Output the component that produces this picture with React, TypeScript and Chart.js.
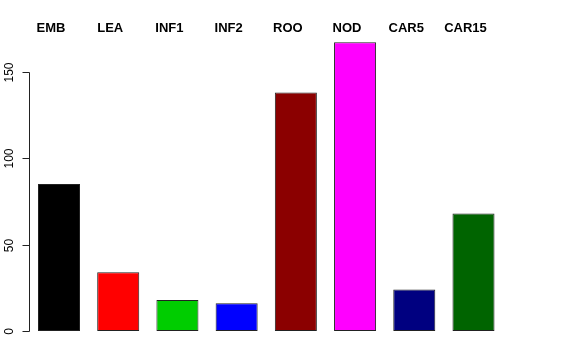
import React, { useEffect, useRef } from "react";
import { Chart, registerables } from "chart.js";

Chart.register(...registerables);

const categories = ["EMB", "LEA", "INF1", "INF2", "ROO", "NOD", "CAR5", "CAR15"];
const values = [85, 34, 18, 16, 138, 167, 24, 68];
const barColors = ["#000000", "#FF0000", "#00CD00", "#0000FF", "#8B0000", "#FF00FF", "#000080", "#006400"];
const yTicks = [0, 50, 100, 150];

const rAxisPlugin = {
  id: "rAxis",
  afterDraw(chart: any) {
    const ctx = chart.ctx;
    const y = chart.scales.y;
    const x = chart.scales.x;
    ctx.save();
    const ax = 29.5;
    ctx.strokeStyle = "#222222";
    ctx.lineWidth = 1;
    ctx.beginPath();
    ctx.moveTo(ax, Math.round(y.getPixelForValue(yTicks[0])) + 0.5);
    ctx.lineTo(ax, Math.round(y.getPixelForValue(yTicks[yTicks.length - 1])) + 0.5);
    ctx.stroke();
    ctx.fillStyle = "#000000";
    ctx.font = "12px 'Liberation Sans', Arial, sans-serif";
    ctx.textAlign = "center";
    ctx.textBaseline = "middle";
    for (const t of yTicks) {
      const py = Math.round(y.getPixelForValue(t)) + 0.5;
      ctx.beginPath();
      ctx.moveTo(ax, py);
      ctx.lineTo(ax - 7, py);
      ctx.stroke();
      ctx.save();
      ctx.translate(10, py);
      ctx.rotate(-Math.PI / 2);
      ctx.fillText(String(t), 0, 0);
      ctx.restore();
    }
    ctx.font = "bold 13px 'Liberation Sans', Arial, sans-serif";
    ctx.textAlign = "center";
    ctx.textBaseline = "middle";
    categories.forEach((c, i) => {
      ctx.fillText(c, x.getPixelForValue(i) - 8, 28.5);
    });
    ctx.restore();
  },
};

export default function App() {
  const ref = useRef<HTMLCanvasElement | null>(null);
  useEffect(() => {
    if (!ref.current) return;
    const chart = new Chart(ref.current, {
      type: "bar",
      data: {
        labels: categories,
        datasets: [
          {
            data: values,
            backgroundColor: barColors,
            borderColor: "#222222",
            borderWidth: 1,
            borderSkipped: false,
            barPercentage: 0.71,
            categoryPercentage: 1,
          },
        ],
      },
      options: {
        responsive: false,
        animation: false,
        layout: { padding: { left: 29.4, right: 72.9, top: 28.5, bottom: 29 } },
        plugins: { legend: { display: false }, tooltip: { enabled: false } },
        scales: {
          x: { display: false },
          y: { display: false, min: 0, max: 175 },
        },
      },
      plugins: [rAxisPlugin],
    });
    return () => chart.destroy();
  }, []);
  return (
    <div style={{ position: "fixed", left: 0, top: 0, width: 576, height: 360, background: "#fff" }}>
      <canvas ref={ref} width={576} height={360} />
    </div>
  );
}
